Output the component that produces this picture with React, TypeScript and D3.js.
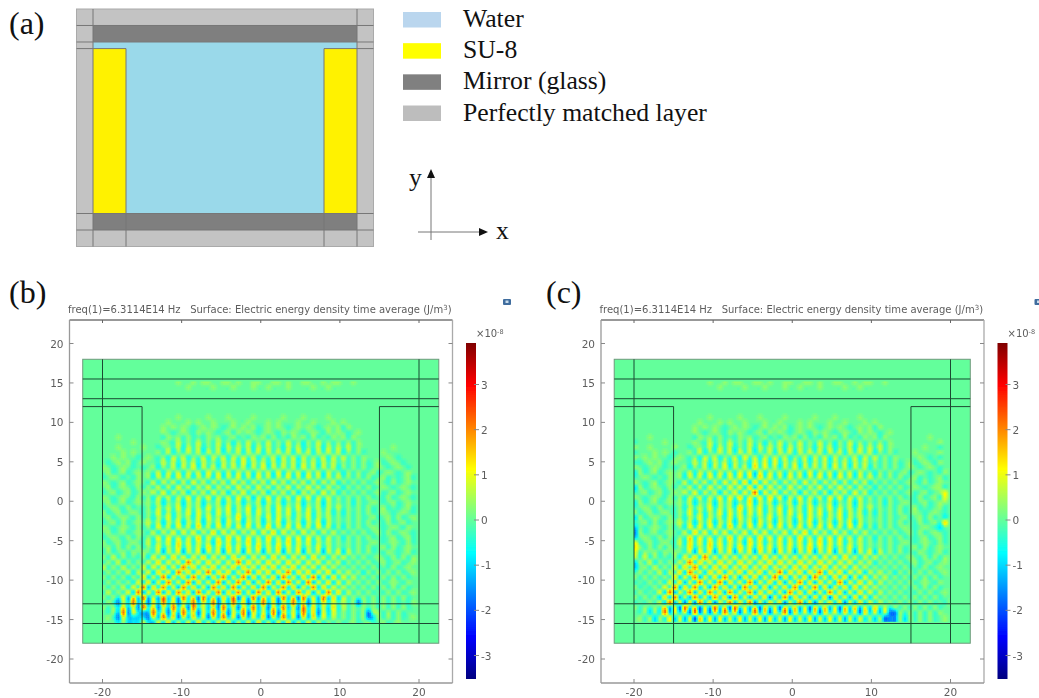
import React from "react";
import * as d3 from "d3";

const legendLabels = ["Water", "SU-8", "Mirror (glass)", "Perfectly matched layer"];
const legendColors = ["#bad6ee", "#ffff00", "#808080", "#bdbdbd"];
const yTicks = [-20, -15, -10, -5, 0, 5, 10, 15, 20];
const xTicks = [-20, -10, 0, 10, 20];
const barTicks = [-3, -2, -1, 0, 1, 2, 3];
const jetStops = ["#00007f", "#0000ff", "#007fff", "#00ffff", "#7fff7f", "#ffff00", "#ff7f00", "#ff0000", "#7f0000"];
const levelValues: Record<string, number> = { "0": 0, "1": 0.32, "2": 0.7, "3": 0.95, "4": 1.25, "5": 2.2, a: -0.3, b: -0.62, c: -0.85, d: -1.05, e: -1.55 };
const geomX = [-22.5, -20, -15, 15, 20, 22.5];
const geomY = [18, 15.5, 13, 12, -13, -15.5, -18];

const fieldB = [
  "000000000000000100101100110100110011010011001011001000000000000",
  "000000000000000001000010001000100100010000100100000000000000000",
  "000000000000000000000000000000000000000000000000000000000000000",
  "000000000000000000000000000000000000000000000000000000000000000",
  "000000000000000000000000000000000000000000000000000000000000000",
  "000000000000000000000000000000000000000000000000000000000000000",
  "000000000000000000000000000000000000000000000000000000000000000",
  "000000000000000100000100010000100000100010000100000000000000000",
  "000000000000010001010010001001000101000100100010100000000000000",
  "000000000000101010a01010a010101a01010a01010a0101a10000000000000",
  "00000000000010a010a1010a01a1010a010a1010a010a1010a0100000000000",
  "000100000000a101a1a0a101a01a0a101a1a0a101a1a0a101a1000000000000",
  "00000010000010a2a1a2a1a2a1b1a2a1a2a1a2a1b1a2a1a1a1a100000000000",
  "00010000100a01a2b2a2b1a2b2a2a2b2a2a1b2a2b1a2b2a2a2a1000000100000",
  "000010100001a2b1a2a2b2a2b1a2b2a2b2a2a2b2a2b2a2a2b1a1a0001000000",
  "0010100a010a1b2a2b1a2b2a2b2a2a2b1a2b2a2b2a1a2b2a2a1a1000010a000",
  "0a0101a0100a2a2b2a2b2a1b2a2b3b2a2b2b2a2b2a2b2a2a1a1a1a01a010a00",
  "10a010a0a01b1a2b2a3b2a2b2a2a2b2a3b2a2a2b3a2b2a2b1a1a1a010a010a0",
  "01a01a0101a2b2a2b2a2b3a2b2b2a2b2a2b3b2a2b2a2b2a1b1a1a01a010a010",
  "a010a0a101b2a2b3a2b2a2b3b2a3b2b3a2b2a3b2b3a2b2a2a1a1a1a01a0a01a",
  "10a01a010a2b2a2b2b3a2b2a2b3a2b2a2b3a2b2a2b2b2a2b1a1a1a010a1a010",
  "01a010a1a1a2b2b3a2b2a3b2a2b3a2b3a2b2a3b2a3a2b2a1b1a1a1a010a010a",
  "a01a01a0102a3b2a2c2a2b3a2c2a3b2a2c2a2b2c2a2b3a2b1a1a1a01a01a010",
  "10a010a1a1b2a2b2a3b2a3b2a2b3a2c2a3b2a2b3a3b2a2a1a1a1a1a0a1a010a",
  "01a01a0101a2c1a2c2a2c1a2c2a2c1a2c2a2c1a2c1a2c2a1a1b1a010a01a010",
  "a010a1a0a1b2a2a3b2a2b3a2a3b2a3b2a2b3a2a3b2a2b2a2a1a1a1a01a0a01a",
  "1a01a010a1a3b2b2a3b3a2b3a3b2a3b3a2b3a3b2a3b2a2b1b1a1a1a010a010a",
  "01a010a1a1b2a3b2a2b3b3a2b2a4b2a2b3b3a2b2a3b2a2a1a1a1a01a01a1a01",
  "a01a1a0102a2c2a3c2a3c2a3c3a2c3a2c2a3c2a2c2a3c2a1a1a1a1a0a1a01a0",
  "10a010a1a1b3a2b3a2b4a2b3a2b3a3b2a4b2a3b3a2b3a2b1b1a1a010a010a10",
  "01a01a010a2b2a3b3a3b2a4b3a3b2a3b3a4b3a2b3a2b2a2a1a1a1a01a1a010a",
  "a010a1a1a1a3b3a2b2a4b3a2b4a3b3a2b4a2b3a3b3a2b2a1b1a1a1a0a01a01a",
  "1a01a010a2b2a3b4a3b3a2c4a3b2a4b3a3b3a4b3a3b2a2a1a1a1a010a010a1a",
  "01a1a1a1a1a3b2a4b3a3b4a3b4a3b3a4b3a4b3a3b2a3b2a1a1a1a1a01a1a010",
  "a1a01a1010a2d2a3d2a3d2a3d3a2d3a2d2a3d2a3d2a2d2a3c2a1a1a0a10a01a",
  "1a2a1a0a1b3a3b4a3b3a4b3a3b4a3b3a3b4a3b3a3b4a2b2a2a1a1a010a1a1a1",
  "a1a2b1a1a2a4b3a3b5a3b4a3b3a5b4a3b4a3b4a3b3a3b2a2b1a1a1a01a01a01",
  "2a1a2a1a3b3a4b3b5a4b3a4b3a4b4a3b4a4b3a4b3a3b3a2a1a1a1a1a0a1a010",
  "a1a1a2b2a3c4a3c5a4c4a5c4a4c3a5c4a4c4a5c4a4c3a4c2a2a1b1a1a1a1a01",
  "1a1a1b1a4c2b5d3b4c5b3d4b5c3b5d4c3b4d5b3c4b5d3c4b3a2a1a1a1a1a1a0",
  "a1a1a1b3b4d3c5b3c5d4b3c5d3b5c4d3b5c4d5b3c5d3b4c3b2a1a1a1a010a10",
  "1a1a2b3a5d4b5c3d5b4c3d5b4c5d3b4c5d3b5c4d3b5c4b3a2a1a1a1a1a1a1a0",
  "a2a1a3c5d3b5d4c5b4d5c3b5d4b5c3d5b4c5d3c5b4d3c5b4b2a1a1a0a1a1a01",
  "1a1b3d4c5d2d5c3d5b4e5c3d4b5e3c5d4b3d5c4e5b3d5c4c2a1a1a1a1a1a1a0",
  "a1ae2c5d3e4d5c4e3b5d4c5e3d5b4e3c5d4e3b5c4e3d4b3a2a1e1a1a1a1a0a1",
  "1a1c4d3e5b4e3d5c4e5b3d4e5c3e4b5d3e4c5d3e5c4d3c4b2a1a1a1a1a1a1a0",
  "0a1d5e3cdd5c3e4d5b4e3c5d4e3b5e4c3d5e4b3d5c4e3c3a1a1a1e11a1a1a0",
  "01ae3dcdce3d5c4e3d4c3e4d5c3e4d3c4e3d5c3e4d4c3b2a1a1a1ec1a1a1a01",
  "000c1dcc2cd3c4d2c3d4c2d3c4d2c3d4c2d3c4d2c3c2b1a1a01a01a01a01000",
];

const fieldC = [
  "000000000000000100101100110100110011010011001011001000000000000",
  "000000000000000001000010001000100100010000100100000000000000000",
  "000000000000000000000000000000000000000000000000000000000000000",
  "000000000000000000000000000000000000000000000000000000000000000",
  "000000000000000000000000000000000000000000000000000000000000000",
  "000000000000000000000000000000000000000000000000000000000000000",
  "000000000000000000000000000000000000000000000000000000000000000",
  "000000000000000100000100010000100000100010000100000000000000000",
  "000000000000010001010010001001000101000100100010100000000000000",
  "000000000000101010a01010a010101a01010a01010a0101a10000000000000",
  "00000000000010a010a1010a01a1010a010a1010a010a1010a0100000000000",
  "000100000000a101a1a0a101a01a0a101a1a0a101a1a0a101a1000000001000",
  "a0000010000010a2a1a2a1a2a1b1a2a1a2a1a2a1b1a2a1a1a1a100000000010",
  "10010000100a01a2b2a2b1a2b2a2a2b2a2a1b2a2b1a2b2a2a2a1000000100a0",
  "a0001010a001a2b1a2a2b2a2b1a2b2a2b2a2a2b2a2b2a2a2b1a1a0001000010",
  "1010100a010a1b2a2b1a2b3a2b2a2a2b1a2b2a2b2a1a2b2a2a1a1000010a0a0",
  "aa0101a0100a2a2b2a2b2a1b3a3b3b2a2b2b2a2b2a2b2a2a1a1a1a01a010a10",
  "10a010a0a01b1a2b2a3b2a2b4a3a2b2a3b2a2a2b3a2b2a2b1a1a1a010a010a0",
  "b1a01a0101a2b2a2b2a2b3a3c3b2a2b2a2b3b2a2b2a2b2a1b1a1a01a010a0a1",
  "a010a0a101b2a2b3a2b3a3b3b4a3b2b3a2b2a3b2b3a2b2a2a1a1a1a01a0a01a",
  "10a01a010a2b2a2b2b3a3b4c4b3a2b2a2b3a2b2a2b2b2a2b1a1a1a010a1a010",
  "c1a010a1a1a2b2b3a2b3a3b4c4b3a2b3a2b2a3b2a3a2b2a1b1a1a1a010a011a",
  "a01a01a0102a3b2a2c2a3b3a5c3a3b2a2c2a2b2c2a2b3a2b1a1a1a01a01a013",
  "10a010a1a1b2a2b2a3b3a4b3a3b4a3c2a3b2a2b3a3b2a2a1a1a1a1a0a1a01a3",
  "b1a01a0101a2c1a2c2a2c1a4c2a2c1a2c2a2c1a2c1a2c2a1a1b1a010a01a011",
  "a010a1a0a1b2a2a3b2a2b4a3a3b2a3b2a2b3a2a3b2a2b2a2a1a1a1a01a0a01a",
  "1a01a010a1a3b2b2a3b3a3b3a3b2a3b3a2b3a3b2a3b2a2b1b1a1a1a010a010a",
  "c1a010a1a1b2a3b2a2b3b3a2b2a3b2a2b3b3a2b2a3b2a2a1a1a1a01a01a1a0b",
  "a01a1a0102a2c2a3c2a3c2a3c3a2c3a2c2a3c2a2c2a3c2a1a1a1a1a0a1a01a4",
  "d0a010a1a1b3a3b3a2b4a2b3a2b3a3b2a3b2a3b3a2b3a2b1b1a1a010a010ac0",
  "e1a01a010a2b4a3b3a3b2a3b3a3b2a3b3a4b3a2b3a2b2a2a1a1a1a01a1a010a",
  "d010a1a1a1a4b3a2b2a4b3a2b4a3b3a2b4a2b3a3b3a2b2a1b1a1a1a0a01a01a",
  "3a01a010a2b4a3b4a3b3a2c4a3b2a3b3a3b3a4b3a3b2a2a1a1a1a010a010a1a",
  "41a1a1a1a1a4b2a4b3a3b4a3b4a3b3a3b3a4b3a3b2a3b2a1a1a1a1a01a1a010",
  "3a101a1010a2d3a3d2a3d2a3d3a2d3a2d2a3d2a3d2a2d2a3c2a1a1a0a10a01a",
  "2a2a1a0a1b3a4b5a3b3a3b3a3b4a3b3a3b3a3b3a3b4a2b2a2a1a1a010a1a1a1",
  "c1a2b1a1a2a5b4a3b4a3b4a3b3a4b4a3b4a3b4a3b3a3b2a2b1a1a1a01a01a01",
  "d01a2a1a3b4a5b3b4a4b3a4b3a4b3a3b4a4b3a4b3a3b3a2a1a1a1a1a0a1a010",
  "a1a1a2b2a4c5a3c4a4c4a4c4a4c3a5c4a4c4a5c4a4c3a3c2a2a1b1a1a1a1a01",
  "1a1a1a1a4c3b5d3b4c5b3d4b4c3b5d4c3b4d5b3c4b4d3c3b2a2a1a1a1a1a1a0",
  "a0a1a1b3b4d3c5b3c5d4b3c5d3b4c4d3b5c4d4b3c5d3b4b3b2a1a1a1a010a10",
  "1a0a1a3a5d4b5c3d5b4c3d5b4c4d3b4c5d3b5c4d3b4c4b3a2a1a1a1a1a1a1a0",
  "a1a0a3c5d3b5d4c5b4d5c3b5d4b4c3d5b4c4d3c5b4d3c4b3b2a1a1a0a1a1a01",
  "1a1a1c4c5d2d5c3d5b4e5c3d4b4e3c5d4b3d4c4e4b3d4c3c2a1a1a1a1a1a1a0",
  "a0a1a2c5d3e4e5c4e3b5d4c5e3d4b4e3c5d4e3b4c4e3d4c3b2a1a1a1a1a1a0a1",
  "1a1a1a4d3e5b4e3d5c4e5b3d4e4c3e4b4d3e4c4d3e4c4d3c4b2b1a1a1a1a1a0",
  "0a1c1b5d3c3e5e3e4d5b4e3c5d4e3b5e4c3d4e4b3d4c3e4c3d2ee1a1a1a1a10",
  "01a1c1a3c2d2e4c3d3c2c3d2c3d3c2d3c2c3d2c3c2d2c2b1c1eee1c1a1a1a01",
];

const jetT = d3.scaleLinear<string>().domain(jetStops.map((_, i) => i / 8)).range(jetStops).clamp(true);
function jet(v: number) {
  return jetT((v + 3.51) / 7.42);
}

const GREY = "#5d5d5d";
const uiFont = "'DejaVu Sans', sans-serif";
const serif = "'Liberation Serif', serif";
const SUB = 3;

function cr(p0: number, p1: number, p2: number, p3: number, t: number) {
  return 0.5 * (2 * p1 + (p2 - p0) * t + (2 * p0 - 5 * p1 + 4 * p2 - p3) * t * t + (3 * p1 - p0 - 3 * p2 + p3) * t * t * t);
}

// Resamples the read grid smoothly, then groups sub-cells by quantised value so colours never mix into purple.
function fieldPaths(rows: string[], px: (c: number) => number, py: (r: number) => number) {
  const at = (r: number, c: number) => {
    const row = rows[Math.max(0, Math.min(rows.length - 1, r))];
    return levelValues[row[c] ?? "0"] ?? 0;
  };
  const bins = new Map<number, string>();
  const nc = 63, nr = rows.length;
  const w = px(1 / SUB) - px(0) + 0.3, h = py(1 / SUB) - py(0) + 0.3;
  for (let R = 0; R < nr * SUB; R++) {
    const rf = R / SUB, r = Math.floor(rf), tr = rf - r;
    for (let C = 0; C < nc * SUB; C++) {
      const cf = C / SUB, c = Math.floor(cf), tc = cf - c;
      const vs = [-1, 0, 1, 2].map(dr => cr(at(r + dr, c - 1), at(r + dr, c), at(r + dr, c + 1), at(r + dr, c + 2), tc));
      const v = cr(vs[0], vs[1], vs[2], vs[3], tr);
      if (Math.abs(v) < 0.03) continue;
      const q = Math.round(v * 12);
      const d = `M${px(cf).toFixed(1)} ${py(rf).toFixed(1)}h${w.toFixed(2)}v${h.toFixed(2)}h${(-w).toFixed(2)}z`;
      bins.set(q, (bins.get(q) ?? "") + d);
    }
  }
  return Array.from(bins, ([q, d]) => ({ color: jet(q / 12), d }));
}

function Field({ offset, rows, id }: { offset: number; rows: string[]; id: string }) {
  const x = d3.scaleLinear().domain([-20, 20]).range([102.5 + offset, 419 + offset]);
  const y = d3.scaleLinear().domain([-20, 20]).range([659, 343.5]);
  const bar = d3.scaleLinear().domain([0, 3]).range([520, 384.5]);
  const barX = 466 + offset;
  const left = 69.5 + offset, right = 452.5 + offset, top = 320, bottom = 683;
  const cw = 0.632, ch = 0.634;
  const paths = React.useMemo(() => fieldPaths(rows, c => x(-20 + c * cw), r => y(15.2 - r * ch)), [rows]);
  const line = "#1c4a30";
  return (
    <g>
      <defs>
        <linearGradient id={id + "g"} x1="0" y1="1" x2="0" y2="0">
          {jetStops.map((c, i) => <stop key={i} offset={i / 8} stopColor={c} />)}
        </linearGradient>
        <clipPath id={id + "c"}>
          <rect x={x(-20)} y={y(15.5)} width={x(20) - x(-20)} height={y(-15.5) - y(15.5)} />
        </clipPath>
      </defs>
      <g filter="url(#soft)">
        <text x={68 + offset} y={313} fontFamily={uiFont} fontSize={10.03} fill={GREY} xmlSpace="preserve">
          {"freq(1)=6.3114E14 Hz   Surface: Electric energy density time average (J/m"}
          <tspan dy={-3} fontSize={7}>3</tspan><tspan dy={3}>)</tspan>
        </text>
        <line x1={left} x2={right} y1={top} y2={top} stroke="#333" strokeWidth={1} />
        <line x1={left} x2={left} y1={top} y2={bottom} stroke="#999" strokeWidth={1.3} />
        <line x1={right} x2={right} y1={top} y2={bottom} stroke="#aaa" strokeWidth={1.3} />
        <line x1={left} x2={right} y1={bottom} y2={bottom} stroke="#999" strokeWidth={1.3} />
        {yTicks.map(t => (
          <g key={t}>
            <line x1={left} x2={left + 4} y1={y(t)} y2={y(t)} stroke="#888" />
            <line x1={right - 4} x2={right} y1={y(t)} y2={y(t)} stroke="#888" />
            <text x={left - 6} y={y(t) + 4} textAnchor="end" fontFamily={uiFont} fontSize={10.5} fill={GREY}>{t}</text>
          </g>
        ))}
        {xTicks.map(t => (
          <g key={t}>
            <line x1={x(t)} x2={x(t)} y1={bottom - 4} y2={bottom} stroke="#888" />
            <line x1={x(t)} x2={x(t)} y1={top} y2={top + 3} stroke="#666" />
            <text x={x(t)} y={696} textAnchor="middle" fontFamily={uiFont} fontSize={10.5} fill={GREY}>{t}</text>
          </g>
        ))}
        <rect x={x(-22.5)} y={y(18)} width={x(22.5) - x(-22.5)} height={y(-18) - y(18)} fill={jet(0)} stroke="#6f9a7c" strokeWidth={1} />
      </g>
      <g clipPath={`url(#${id}c)`}>
        <g filter="url(#blob)">
          {paths.map(p => <path key={p.color} d={p.d} fill={p.color} />)}
        </g>
      </g>
      <g stroke={line} strokeWidth={1} filter="url(#soft)">
        {[15.5, 13, -13, -15.5].map(v => <line key={v} x1={x(-22.5)} x2={x(22.5)} y1={y(v)} y2={y(v)} />)}
        {[-20, 20].map(v => <line key={v} x1={x(v)} x2={x(v)} y1={y(18)} y2={y(-18)} />)}
        {[-15, 15].map(v => <line key={v} x1={x(v)} x2={x(v)} y1={y(12)} y2={y(-18)} />)}
        <line x1={x(-22.5)} x2={x(-15)} y1={y(12)} y2={y(12)} />
        <line x1={x(15)} x2={x(22.5)} y1={y(12)} y2={y(12)} />
      </g>
      <g filter="url(#soft)">
        <rect x={barX} y={343} width={10} height={336} fill={`url(#${id}g)`} />
        {barTicks.map(t => (
          <g key={t}>
            <line x1={barX + 8} x2={barX + 13} y1={bar(t)} y2={bar(t)} stroke="#888" />
            <text x={barX + 15} y={bar(t) + 4} fontFamily={uiFont} fontSize={10.5} fill={GREY}>{t}</text>
          </g>
        ))}
        <text x={barX + 10} y={337} fontFamily={uiFont} fontSize={10} fill={GREY}>×10<tspan dy={-3.5} fontSize={6.5}>-8</tspan></text>
        <rect x={503 + offset} y={299} width={8} height={6} rx={1} fill="#3f6d9e" />
        <rect x={505.5 + offset} y={300.5} width={3} height={2.5} fill="#c8dcec" />
      </g>
    </g>
  );
}

function Schematic() {
  const x = d3.scaleLinear().domain([-22.5, 22.5]).range([76.5, 373.5]);
  const y = d3.scaleLinear().domain([18, -18]).range([9, 246.5]);
  const box = (x0: number, x1: number, y0: number, y1: number, fill: string) => (
    <rect x={x(x0)} y={y(y0)} width={x(x1) - x(x0)} height={y(y1) - y(y0)} fill={fill} />
  );
  const g = "#777";
  return (
    <g filter="url(#soft)">
      {box(geomX[0], geomX[5], geomY[0], geomY[6], "#c3c3c3")}
      {box(-20, 20, 15.5, 13, "#7f7f7f")}
      {box(-20, 20, -13, -15.5, "#7f7f7f")}
      {box(-20, 20, 13, -13, "#9ad9ea")}
      {box(-20, -15, 12, -13, "#fff200")}
      {box(15, 20, 12, -13, "#fff200")}
      <g stroke={g} strokeWidth={1} fill="none">
        <rect x={x(-22.5)} y={y(18)} width={x(22.5) - x(-22.5)} height={y(-18) - y(18)} stroke="#aaa" />
        {[-20, 20].map(v => <line key={v} x1={x(v)} x2={x(v)} y1={y(18)} y2={y(-18)} />)}
        {[-15, 15].map(v => <line key={v} x1={x(v)} x2={x(v)} y1={y(12)} y2={y(-18)} />)}
        {[15.5, 13, -13, -15.5].map(v => <line key={v} x1={x(-22.5)} x2={x(22.5)} y1={y(v)} y2={y(v)} />)}
        <line x1={x(-22.5)} x2={x(-15)} y1={y(12)} y2={y(12)} />
        <line x1={x(15)} x2={x(22.5)} y1={y(12)} y2={y(12)} />
      </g>
    </g>
  );
}

export default function App() {
  const legendY = d3.scaleLinear().domain([0, 3]).range([27, 120.5]);
  return (
    <svg width={1039} height={698} viewBox="0 0 1039 698" style={{ position: "absolute", left: 0, top: 0, display: "block", background: "#fff" }}>
      <defs>
        <filter id="soft" x="-5%" y="-5%" width="110%" height="110%"><feGaussianBlur stdDeviation={0.4} /></filter>
        <filter id="blob" x="-5%" y="-5%" width="110%" height="110%"><feGaussianBlur stdDeviation={0.7} /></filter>
      </defs>
      <g fontFamily={serif} fill="#111">
        <text x={9} y={34} fontSize={32}>(a)</text>
        <text x={9} y={303} fontSize={32}>(b)</text>
        <text x={546} y={303} fontSize={32}>(c)</text>
      </g>
      <Schematic />
      {legendLabels.map((l, i) => (
        <g key={l}>
          <rect x={403} y={legendY(i) - 15} width={38} height={15.5} fill={legendColors[i]} />
          <text x={463} y={legendY(i)} fontFamily={serif} fontSize={25.7} fill="#111">{l}</text>
        </g>
      ))}
      <g stroke="#777" strokeWidth={1}>
        <line x1={431} x2={431} y1={240} y2={175} />
        <line x1={418} x2={482} y1={232} y2={232} />
      </g>
      <path d="M431 169 L427 178 L435 178 Z M488 232 L479 228 L479 236 Z" fill="#111" />
      <text x={409} y={186} fontFamily={serif} fontSize={25.7} fill="#111">y</text>
      <text x={496} y={239} fontFamily={serif} fontSize={25.7} fill="#111">x</text>
      <Field offset={0} rows={fieldB} id="b" />
      <Field offset={531.5} rows={fieldC} id="c" />
    </svg>
  );
}
